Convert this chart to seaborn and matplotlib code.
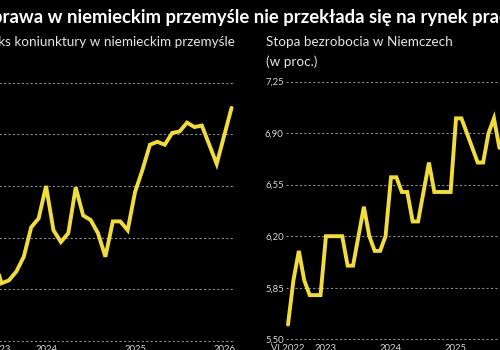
import pandas as pd
import matplotlib
matplotlib.use('Agg')
import matplotlib.pyplot as plt
import seaborn as sns

# Indeks koniunktury w niemieckim przemysle (od VI 2023)
pmi_start = '2023-06'
pmi_values = [40.6, 38.9, 39.1, 39.7, 40.7, 42.7, 43.3,
              45.5, 42.5, 41.7, 42.3, 45.4, 43.5, 43.2, 42.3, 40.7, 43.1, 43.1, 42.5,
              45.1, 46.6, 48.3, 48.5, 48.3, 49.1, 49.2, 49.8, 49.5, 49.6, 48.3, 47.0,
              48.9, 50.8]
pmi_ticks = [35, 38.5, 42, 45.5, 49, 52.5]
pmi_xticks = ['2023-06', '2024-01', '2025-01', '2026-01']
pmi_xlabels = ['VI 2023', '2024', '2025', '2026']

# Stopa bezrobocia w Niemczech (od VI 2022)
unemp_start = '2022-06'
unemp_values = [5.6, 5.9, 6.1, 5.9, 5.8, 5.8, 5.8,
                6.2, 6.2, 6.2, 6.2, 6.0, 6.0, 6.2, 6.4, 6.2, 6.1, 6.1, 6.2,
                6.6, 6.6, 6.5, 6.5, 6.3, 6.3, 6.5, 6.7, 6.5, 6.5, 6.5, 6.5,
                7.0, 7.0, 6.9, 6.8, 6.7, 6.7, 6.9, 7.0, 6.8]
unemp_ticks = [5.50, 5.85, 6.20, 6.55, 6.90, 7.25]
unemp_xticks = ['2022-06', '2023-01', '2024-01', '2025-01', '2026-01']
unemp_xlabels = ['VI 2022', '2023', '2024', '2025', '2026']

title = 'Poprawa w niemieckim przemyśle nie przekłada się na rynek pracy'
sub_left = 'Indeks koniunktury w niemieckim przemyśle'
sub_right = ['Stopa bezrobocia w Niemczech', '(w proc.)']

YELLOW = '#F0DC3C'
W, H = 500, 350

sns.set_theme(style='dark')
plt.rcParams['font.family'] = ['Lato', 'DejaVu Sans']


def month_index(start, months):
    p0 = pd.Period(start, freq='M')
    return [(pd.Period(m, freq='M') - p0).n for m in months]


def make_df(start, values):
    months = pd.period_range(start, periods=len(values), freq='M').strftime('%Y-%m')
    return pd.DataFrame({'m': month_index(start, months), 'v': values})


def place(ax, px_x, px_y):
    # pixel box of the axes (x from left, y from top)
    x0, x1 = px_x
    ybot, ytop = px_y
    ax.set_position([x0 / W, 1 - ybot / H, (x1 - x0) / W, (ybot - ytop) / H])


def style_axis(ax, yticks, fmt, xticks, xlabels, start):
    ax.set_facecolor('black')
    ax.set_yticks(yticks)
    ax.set_yticklabels([fmt.format(t).replace('.', ',') for t in yticks])
    ax.set_xticks(month_index(start, xticks))
    ax.set_xticklabels(xlabels)
    ax.grid(axis='y', color='#8a8a8a', lw=0.8, linestyle=(0, (2, 2)))
    ax.grid(axis='x', visible=False)
    ax.tick_params(length=0, colors='#d9d9d9', labelsize=6.8)
    ax.tick_params(axis='x', pad=1)
    ax.tick_params(axis='y', pad=1.5)
    for s in ax.spines.values():
        s.set_visible(False)
    ax.set_xlabel('')
    ax.set_ylabel('')


fig = plt.figure(figsize=(5, 3.5), dpi=100, facecolor='black')

ax1 = fig.add_axes([0, 0, 1, 1])
df1 = make_df(pmi_start, pmi_values)
sns.lineplot(data=df1, x='m', y='v', ax=ax1, color=YELLOW, lw=2.8)
ax1.lines[0].set_solid_joinstyle('miter')
style_axis(ax1, pmi_ticks, '{:.1f}', pmi_xticks, pmi_xlabels, pmi_start)
ax1.set_xlim(-0.3, 32.47)
ax1.set_ylim(34.8, 52.7)
place(ax1, (-5.9 - 0.3 * 7.42, -5.9 + 32.47 * 7.42),
      (186 + (45.5 - 34.8) * 14.74, 186 - (52.7 - 45.5) * 14.74))

ax2 = fig.add_axes([0, 0, 1, 1])
df2 = make_df(unemp_start, unemp_values)
sns.lineplot(data=df2, x='m', y='v', ax=ax2, color=YELLOW, lw=2.8)
ax2.lines[0].set_solid_joinstyle('miter')
style_axis(ax2, unemp_ticks, '{:.2f}', unemp_xticks, unemp_xlabels, unemp_start)
ax2.set_xlim(-0.4, 44.4)
ax2.set_ylim(5.48, 7.27)
place(ax2, (288 - 0.4 * 5.42, 288 + 44.4 * 5.42),
      (339.3 + (5.5 - 5.48) * 147.3, 339.3 - (7.27 - 5.5) * 147.3))

fig.text(-30 / W, 1 - 23.5 / H, title, color='white', fontsize=13.3,
         fontweight='bold', va='baseline', ha='left')
fig.text(-28.5 / W, 1 - 46.5 / H, sub_left, color='#e6e6e6', fontsize=9.7,
         va='baseline', ha='left')
fig.text(265.5 / W, 1 - 46.5 / H, sub_right[0], color='#e6e6e6', fontsize=9.7,
         va='baseline', ha='left')
fig.text(265.5 / W, 1 - 66 / H, sub_right[1], color='#e6e6e6', fontsize=9.7,
         va='baseline', ha='left')

fig.savefig('out.png', dpi=100, facecolor='black')
